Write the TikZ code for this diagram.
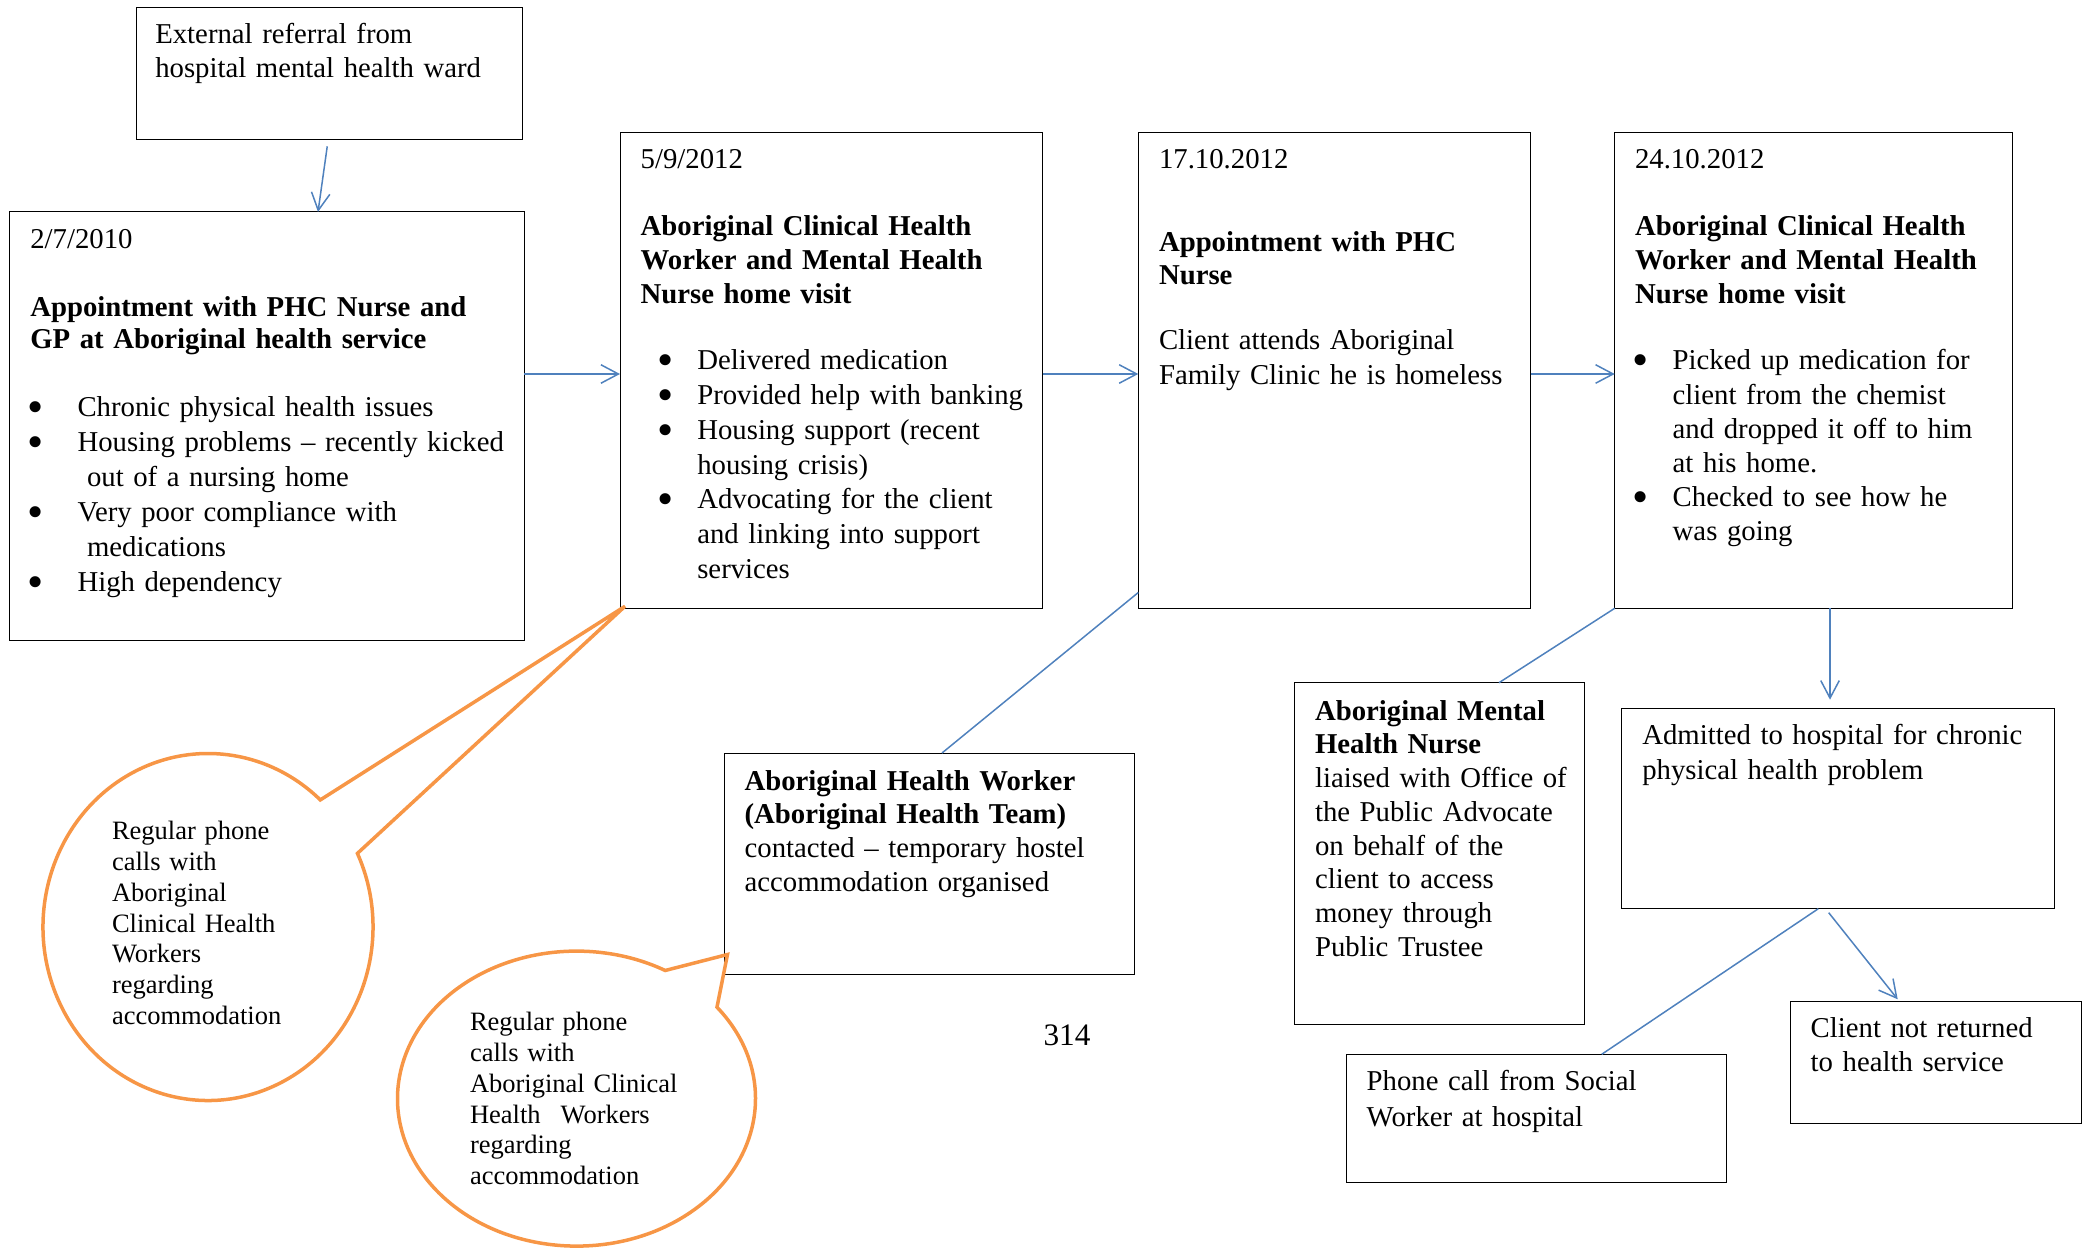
\documentclass[tikz,border=0pt]{standalone}
\usepackage{fontspec}
\setmainfont{Liberation Serif}
\usetikzlibrary{arrows.meta,calc}
\definecolor{linkblue}{RGB}{79,129,189}
\definecolor{callorange}{RGB}{247,150,70}
% rectangle node from its top-left (x1,y1) to bottom-right (x2,y2), in pixel units
\newcommand\pbox[5]{\node[box, minimum width={(#4-#2)*0.4pt}, minimum height={(#5-#3)*0.4pt}] (#1) at (#2,#3) {};}
% list bullet whose dot centre sits #1 to the left of the item text
\newcommand\bul[1]{\leavevmode\llap{\makebox[0pt]{\raisebox{-2.3pt}{\fontsize{18.5pt}{18.5pt}\selectfont\textbullet}}\hspace{#1}}}
\tikzset{
  box/.style={draw=black, line width=0.4pt, inner sep=0pt, outer sep=0pt, anchor=north west},
  txt/.style={inner sep=0pt, outer sep=0pt, anchor=base west, align=left, text width=200pt,
              font=\fontsize{11.5pt}{#1}\selectfont},
  btxt/.style={inner sep=0pt, outer sep=0pt, anchor=base west, align=left, text width=120pt,
               font=\fontsize{10.6pt}{12.3pt}\selectfont},
  link/.style={draw=linkblue, line width=0.6pt},
  arr/.style={link, -{Straight Barb[length=7pt,width=7.4pt]}},
  balloon/.style={draw=callorange, line width=1.4pt},
}
\begin{document}
\begin{tikzpicture}[x=0.4pt, y=-0.4pt]
\useasboundingbox (0,0) rectangle (2091,1250);

% boxes
\pbox{ext}{136.2}{7.5}{522.3}{139.3}
\pbox{b1}{9.7}{212}{524}{640}
\pbox{b2}{620}{132.3}{1042.7}{608.3}
\pbox{b3}{1138.3}{132.3}{1530.7}{608.3}
\pbox{b4}{1614.7}{132.3}{2012.7}{608.3}
\pbox{ahw}{724.5}{753}{1134}{974}
\pbox{amhn}{1294.3}{682.7}{1584.7}{1024.3}
\pbox{adm}{1621.3}{708.7}{2054}{908.7}
\pbox{client}{1790.7}{1001.7}{2081}{1123.3}
\pbox{phone}{1346.7}{1054.3}{1726.7}{1182.5}

% box texts
\node[txt=13.6pt] (extT) at (155.3,43.5) {External referral from\\hospital mental health ward};

\node[txt=13.5pt] (b1date) at (30.3,249) {2/7/2010};
\node[txt=12.96pt] (b1title) at (30.3,316.4) {\bfseries Appointment with PHC Nurse and\\GP at Aboriginal health service};
\node[txt=14pt] (b1list) at (77.5,417) {\bul{16.6pt}Chronic physical health issues\\
\bul{16.6pt}Housing problems -- recently kicked\\
\hspace*{3.8pt}out of a nursing home\\
\bul{16.6pt}Very poor compliance with\\
\hspace*{3.8pt}medications\\
\bul{16.6pt}High dependency};

\node[txt=13.5pt] (b2date) at (640.7,169) {5/9/2012};
\node[txt=13.5pt] (b2title) at (640.7,235.7) {\bfseries Aboriginal Clinical Health\\Worker and Mental Health\\Nurse home visit};
\node[txt=13.9pt] (b2list) at (697.3,370) {\bul{12.6pt}Delivered medication\\
\bul{12.6pt}Provided help with banking\\
\bul{12.6pt}Housing support (recent\\
housing crisis)\\
\bul{12.6pt}Advocating for the client\\
and linking into support\\
services};

\node[txt=13.5pt] (b3date) at (1159,169) {17.10.2012};
\node[txt=13.3pt] (b3title) at (1159,251.7) {\bfseries Appointment with PHC\\Nurse};
\node[txt=14pt] (b3body) at (1159,350) {Client attends Aboriginal\\Family Clinic he is homeless};

\node[txt=13.5pt] (b4date) at (1635,169) {24.10.2012};
\node[txt=13.5pt] (b4title) at (1635,235.7) {\bfseries Aboriginal Clinical Health\\Worker and Mental Health\\Nurse home visit};
\node[txt=13.65pt] (b4list) at (1672.7,370) {\bul{12.7pt}Picked up medication for\\
client from the chemist\\
and dropped it off to him\\
at his home.\\
\bul{12.7pt}Checked to see how he\\
was going};

\node[txt=13.5pt] (ahwT) at (744.6,790) {{\bfseries Aboriginal Health Worker\\(Aboriginal Health Team)}\\contacted -- temporary hostel\\accommodation organised};

\node[txt=13.5pt] (amhnT) at (1315,720) {{\bfseries Aboriginal Mental\\Health Nurse}\\liaised with Office of\\the Public Advocate\\on behalf of the\\client to access\\money through\\Public Trustee};

\node[txt=14.1pt] (admT) at (1642.3,744) {Admitted to hospital for chronic\\physical health problem};
\node[txt=13.8pt] (clientT) at (1810.7,1037.3) {Client not returned\\to health service};
\node[txt=14.2pt] (phoneT) at (1366.7,1090.6) {Phone call from Social\\Worker at hospital};

\node[inner sep=0pt, anchor=base, font=\fontsize{12.5pt}{15pt}\selectfont] (page) at (1067,1045.8) {314};

% reference points for connector ends
\coordinate (row) at (0,374);
\coordinate (xa) at (318,0);
\coordinate (y3) at (0,592.5);
\coordinate (x3) at (942,0);
\coordinate (x4) at (1499,0);
\coordinate (x5) at (1830,0);
\coordinate (x6) at (1818.3,0);
\coordinate (x7) at (1601.7,0);
\coordinate (x8) at (1828.7,0);
\coordinate (x9) at (1897.7,0);

% connectors
\draw[arr] ([shift={(-2,7)}]ext.south) -- (b1.north -| xa);
\draw[arr] (b1.east |- row) -- (b2.west |- row);
\draw[arr] (b2.east |- row) -- (b3.west |- row);
\draw[arr] (b3.east |- row) -- (b4.west |- row);
\draw[link] (b3.west |- y3) -- (ahw.north -| x3);
\draw[link] (b4.south west) -- (amhn.north -| x4);
\draw[arr] (b4.south -| x5) -- ($(adm.north -| x5)+(0,-9)$);
\draw[link] (adm.south -| x6) -- (phone.north -| x7);
\draw[arr] ($(adm.south -| x8)+(0,4)$) -- ($(client.north -| x9)+(0,-2.4)$);

% speech balloons
\coordinate (bc1) at (208,927);
\coordinate (tip1) at ($(b2.south west)+(5,-2)$);
\draw[balloon] (bc1) ++(25.1:66pt and 69.4pt)
  arc[start angle=25.1, end angle=-312.9, x radius=66pt, y radius=69.4pt] -- (tip1) -- cycle;
\node[btxt] (bt1) at (112,839.8) {Regular phone\\calls with\\Aboriginal\\Clinical Health\\Workers\\regarding\\accommodation};

\coordinate (bc2) at (576.5,1098.6);
\coordinate (tip2) at ($(ahw.south west)+(3,-19.5)$);
\draw[balloon] (bc2) ++(38.3:71.6pt and 59pt)
  arc[start angle=38.3, end angle=-299.7, x radius=71.6pt, y radius=59pt] -- (tip2) -- cycle;
\node[btxt] (bt2) at (470,1030.8) {Regular phone\\calls with\\Aboriginal Clinical\\Health\hspace*{8pt}Workers\\regarding\\accommodation};
\end{tikzpicture}
\end{document}
